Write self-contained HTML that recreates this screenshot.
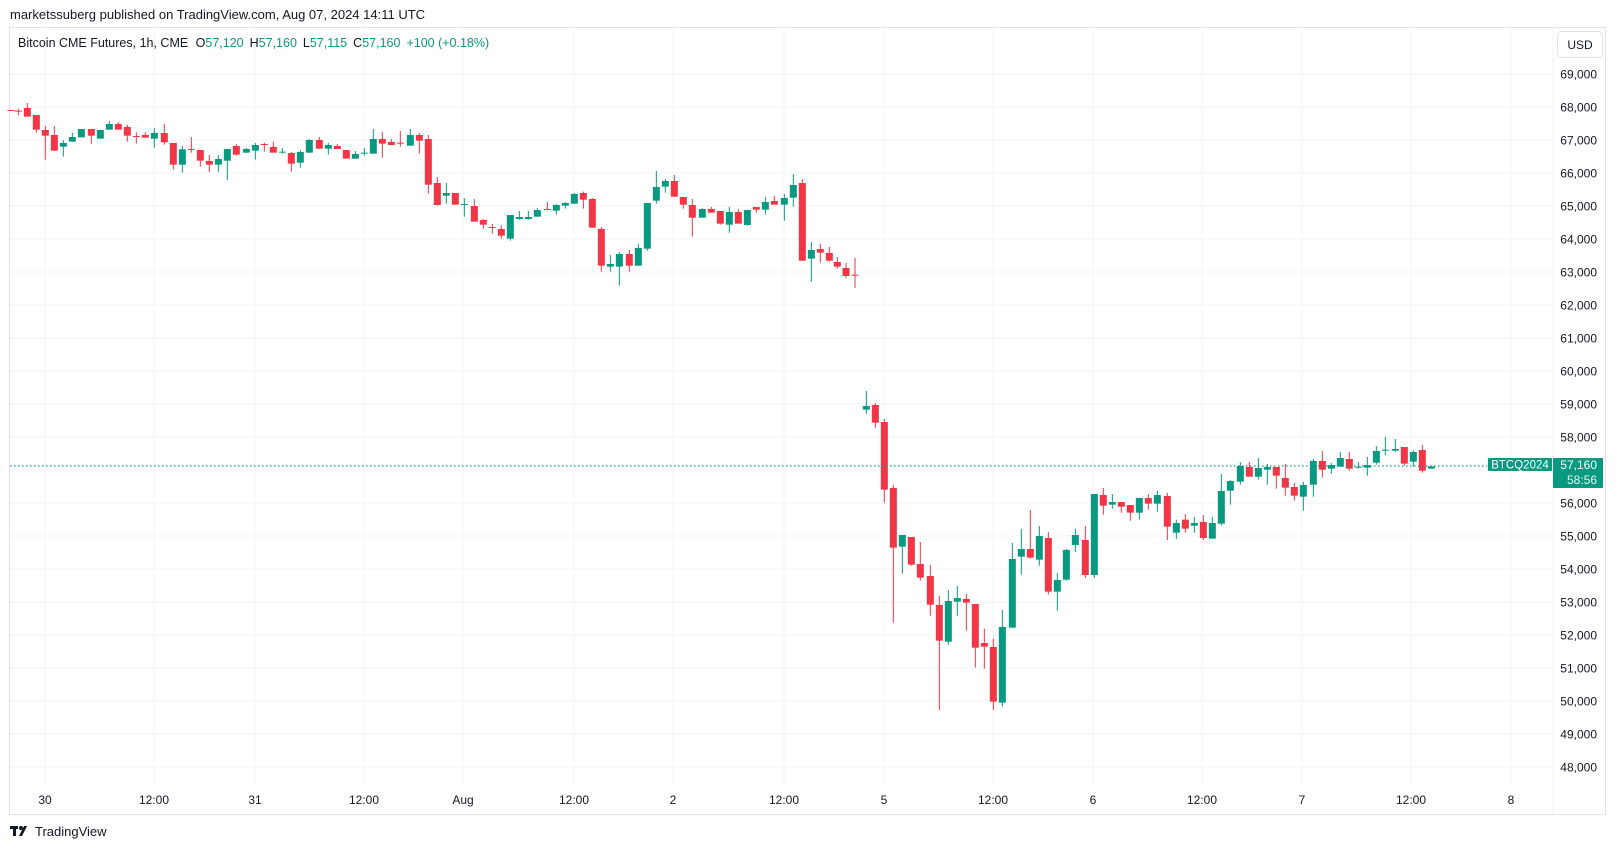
<!DOCTYPE html>
<html><head><meta charset="utf-8"><style>
html,body{margin:0;padding:0;background:#fff;}
body{width:1617px;height:849px;overflow:hidden;position:relative;font-family:"Liberation Sans","DejaVu Sans",sans-serif;}
svg{position:absolute;left:0;top:0;}
</style></head><body>
<svg id="s" width="1617" height="849" xmlns="http://www.w3.org/2000/svg" font-family="Liberation Sans, DejaVu Sans, sans-serif">
<rect x="9.5" y="27.5" width="1596" height="787" fill="#fff" stroke="#e0e3eb"/>
<g id="grid"></g>
<g id="c"></g>
<line x1="10" x2="1487" y1="466" y2="466" stroke="#089981" stroke-width="1.2" stroke-dasharray="1.5,2.5"/>
<text x="10" y="19" font-size="13" fill="#131722">marketssuberg published on TradingView.com, Aug 07, 2024 14:11 UTC</text>
<text x="18" y="47" font-size="12.5" fill="#131722">Bitcoin CME Futures, 1h, CME <tspan dx="4">O</tspan><tspan fill="#089981">57,120</tspan><tspan dx="6">H</tspan><tspan fill="#089981">57,160</tspan><tspan dx="6">L</tspan><tspan fill="#089981">57,115</tspan><tspan dx="6">C</tspan><tspan fill="#089981">57,160</tspan><tspan dx="6" fill="#089981">+100 (+0.18%)</tspan></text>
<rect x="1557.5" y="31.5" width="45" height="26" rx="4" fill="#fff" stroke="#e0e3eb"/>
<text x="1580" y="49" font-size="12" fill="#131722" text-anchor="middle">USD</text>
<rect x="1488" y="458" width="64" height="13" rx="1" fill="#089981"/>
<text x="1520" y="468.5" font-size="11.5" fill="#fff" text-anchor="middle">BTCQ2024</text>
<rect x="1553" y="458" width="50" height="30" rx="1" fill="#089981"/>
<text x="1597" y="469" font-size="12" fill="#fff" text-anchor="end">57,160</text>
<text x="1597" y="484" font-size="12" fill="#e6f5f2" text-anchor="end">58:56</text>
<g fill="#131722"><rect x="10" y="826" width="8" height="3"/><rect x="13" y="826" width="3" height="10"/><circle cx="21" cy="828" r="2"/><polygon points="24,826 27,826 22,836 19,836"/></g>
<text x="35" y="836" font-size="13" fill="#131722">TradingView</text>
</svg>
<script>
var NS="http://www.w3.org/2000/svg";
function el(p,t,a,txt){var e=document.createElementNS(NS,t);for(var k in a)e.setAttribute(k,a[k]);if(txt)e.textContent=txt;p.appendChild(e);return e;}
var g=document.getElementById('grid'),s=document.getElementById('s');
for(var k=48;k<=69;k++){var y=74+(69-k)*33;el(g,'line',{x1:10,x2:1553,y1:y,y2:y,stroke:'#f0f3fa'});
if(k!=57)el(s,'text',{x:1597,y:y+4.5,'font-size':12,fill:'#131722','text-anchor':'end'},k+',000');}
el(g,'line',{x1:1553,x2:1553,y1:28,y2:814,stroke:'#f0f3fa'});
var xs=[[45,'30'],[154,'12:00'],[255,'31'],[364,'12:00'],[463,'Aug'],[574,'12:00'],[673,'2'],[784,'12:00'],[884,'5'],[993,'12:00'],[1093,'6'],[1202,'12:00'],[1302,'7'],[1411,'12:00'],[1511,'8']];
xs.forEach(function(a){el(g,'line',{x1:a[0],x2:a[0],y1:28,y2:785,stroke:'#f0f3fa'});
el(s,'text',{x:a[0],y:804,'font-size':12,fill:'#131722','text-anchor':'middle'},a[1]);});
var C=document.getElementById('c');
function draw(ox,oy,arr){arr.forEach(function(d){var x=ox+d[0]/3,bt=oy+d[1]/3,bb=oy+d[2]/3,wt=d[3]?oy+d[3]/3:bt,wb=d[4]?oy+d[4]/3:bb;
var col=d[5]=='g'?'#089981':'#f23645';
el(C,'line',{x1:x,x2:x,y1:Math.min(wt,bt),y2:Math.max(wb,bb),stroke:col,'stroke-width':1});
var h=Math.max(1,bb-bt);el(C,'rect',{x:x-3.5,y:bt,width:7,height:h,fill:col});});}
draw(0,90,[[33,60,62,0,0,'r'],[55,62,64,56,76,'r'],[82,54,80,39,0,'r'],[109,75,119,0,128,'r'],[136,120,137,108,209,'r'],[163,135,182,108,0,'r'],[190,159,170,150,200,'g'],[217,141,155,128,0,'g'],[244,117,142,0,0,'g'],[274,117,137,0,161,'r'],[301,120,146,0,0,'g'],[328,102,119,93,0,'g'],[355,102,119,96,0,'r'],[382,111,137,104,155,'r'],[409,138,140,127,161,'r'],[436,135,143,127,0,'r'],[463,129,146,114,173,'g'],[493,129,157,102,164,'r'],[520,159,224,0,239,'r'],[547,178,224,168,248,'g'],[574,177,179,141,188,'r'],[601,180,212,0,230,'r'],[628,213,224,195,246,'r'],[655,207,224,195,246,'g'],[682,177,212,0,270,'g'],[709,168,194,162,197,'r'],[739,177,188,174,0,'g'],[766,165,182,159,209,'g'],[793,162,164,158,185,'r'],[820,171,188,155,0,'r'],[847,185,187,174,191,'g'],[874,189,221,186,245,'r'],[901,186,218,180,233,'g'],[928,150,188,147,0,'g'],[958,150,176,141,0,'r'],[985,165,176,159,194,'g'],[1012,168,177,162,0,'r'],[1039,180,206,0,0,'r'],[1066,192,206,183,0,'g'],[1093,188,190,174,197,'g'],[1120,147,191,117,0,'g'],[1147,147,161,126,203,'r'],[1174,156,165,147,0,'r'],[1201,158,160,123,170,'r'],[1231,135,167,117,0,'g'],[1258,135,152,129,191,'r']]);
draw(400,120,[[85,57,194,45,221,'r'],[112,189,255,171,257,'r'],[139,219,227,189,251,'g'],[166,219,254,0,0,'r'],[193,252,254,234,290,'g'],[223,258,305,237,0,'r'],[250,300,314,297,326,'r'],[277,321,323,312,341,'r'],[304,327,347,316,356,'r'],[331,285,356,0,362,'g'],[358,291,297,273,299,'g'],[385,291,297,273,299,'g'],[412,270,290,264,0,'g'],[442,267,270,246,0,'r'],[469,255,272,252,284,'g'],[496,249,257,246,266,'g'],[523,222,251,219,0,'g'],[550,219,239,215,266,'r'],[577,237,323,234,0,'r'],[604,327,437,321,455,'r'],[631,432,440,405,455,'g'],[658,402,440,396,497,'g'],[688,402,437,390,455,'r'],[715,384,437,372,0,'g'],[742,249,386,0,392,'g'],[769,201,242,153,251,'g'],[796,183,200,177,218,'g'],[823,183,230,165,0,'r'],[850,231,254,0,266,'r'],[877,255,293,237,350,'r'],[907,267,293,264,0,'g'],[934,267,278,261,0,'r'],[961,273,311,0,314,'r'],[988,276,314,261,338,'g'],[1015,276,311,267,0,'r'],[1042,270,315,0,317,'g'],[1069,261,269,0,278,'r'],[1096,246,269,231,284,'g'],[1123,243,254,228,0,'r'],[1153,234,254,222,302,'g'],[1180,195,233,162,260,'g'],[1207,189,422,177,0,'r'],[1234,390,416,366,485,'g'],[1261,387,398,372,428,'r'],[1288,399,422,381,425,'r'],[1312,426,440,411,446,'r'],[1338,444,468,429,474,'r'],[1365,464,467,414,504,'r']]);
draw(830,370,[[109,108,119,63,131,'g'],[136,105,158,99,173,'r'],[163,156,359,147,398,'r'],[190,354,533,345,758,'r'],[217,495,530,0,611,'g'],[244,501,584,0,587,'r'],[271,582,623,516,632,'r'],[301,618,704,585,737,'r'],[328,705,812,678,1020,'r'],[355,693,815,660,824,'g'],[382,684,695,648,737,'g'],[409,687,698,672,782,'r'],[436,702,833,0,893,'r'],[463,819,830,776,896,'r'],[490,831,995,806,1020,'r'],[517,771,998,720,1010,'g'],[547,567,773,519,0,'g'],[574,537,560,477,614,'g'],[601,537,563,420,566,'r'],[628,498,569,468,587,'g'],[655,504,665,486,674,'r'],[682,630,665,609,722,'g'],[709,540,629,537,632,'g']]);
draw(1050,420,[[76,345,375,326,396,'g'],[106,360,465,318,474,'r'],[133,222,465,0,474,'g'],[160,225,257,204,284,'r'],[187,246,254,222,266,'g'],[214,246,260,0,278,'r'],[241,255,278,0,302,'r'],[268,234,278,0,299,'g'],[295,234,251,222,269,'r'],[322,225,251,212,275,'g'],[352,228,320,218,360,'r'],[379,309,338,299,357,'g'],[406,299,326,282,338,'r'],[433,309,317,291,338,'g'],[460,306,354,285,360,'r'],[487,309,356,291,0,'g'],[514,213,311,162,317,'g'],[541,183,212,180,254,'g'],[571,138,185,126,194,'g'],[598,141,170,126,0,'r'],[625,144,170,114,179,'g'],[652,141,149,132,194,'g'],[679,141,167,0,206,'r'],[706,174,203,132,227,'r'],[733,201,227,189,242,'r'],[760,195,230,186,272,'g'],[790,123,194,117,230,'g'],[817,123,149,93,173,'r'],[844,135,146,129,161,'g'],[871,114,140,96,0,'g'],[898,117,146,96,152,'r'],[925,140,142,126,146,'g'],[952,135,143,111,167,'g'],[979,93,128,78,134,'g'],[1006,89,91,51,105,'g'],[1036,87,92,57,96,'g'],[1063,81,131,0,137,'r'],[1090,96,125,90,140,'g'],[1117,90,152,75,158,'r'],[1144,139,146,0,0,'g']]);
</script>
</body></html>
